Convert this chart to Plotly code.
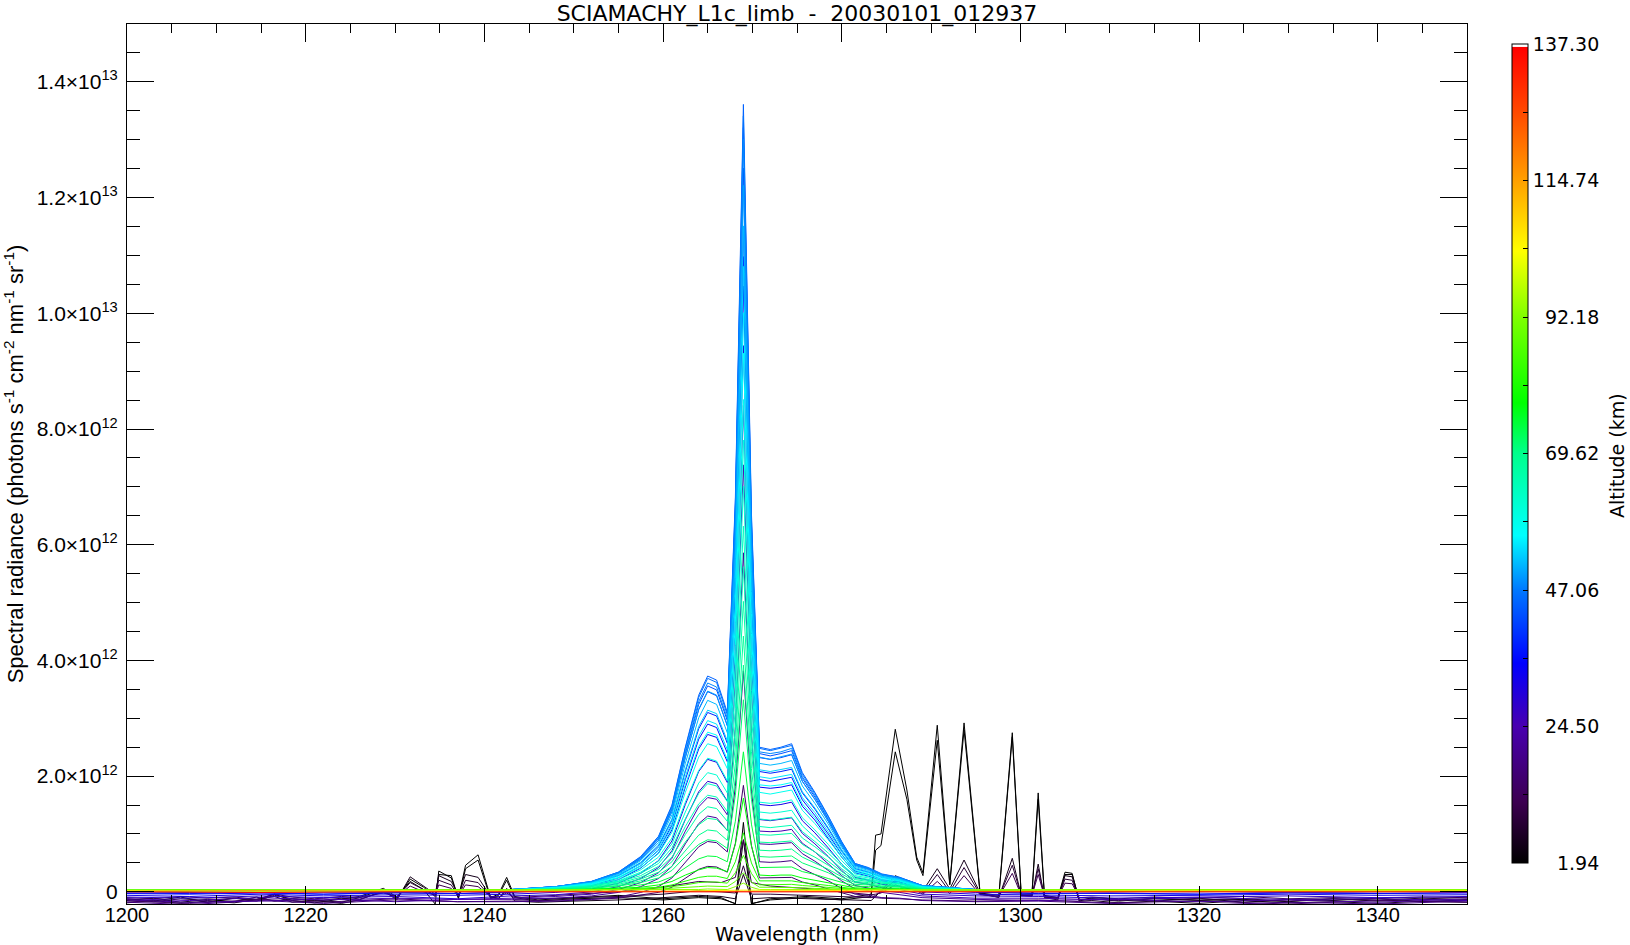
import numpy as np
import plotly.graph_objects as go
from plotly.colors import sample_colorscale

# ---------------- data (radiance in units of 1e10 photons s-1 cm-2 nm-1 sr-1) ----------------
wl_band = [1200, 1207, 1215, 1222, 1230, 1237, 1243, 1248, 1252, 1255, 1257.5, 1259.5, 1261, 1262.5,
           1264, 1265, 1266, 1267.2, 1268.1, 1269, 1269.9, 1270.8, 1272, 1273.2, 1274.4, 1275.6, 1277,
           1278.5, 1280, 1281.5, 1283, 1284.5, 1286.5, 1289, 1295, 1302, 1310, 1320, 1330, 1340, 1350]

wl_low = [1200, 1203, 1206, 1209, 1212, 1214.5, 1216.5, 1218.5, 1221, 1224, 1226, 1228.7, 1230.2,
          1231.7, 1233.2, 1234.5, 1234.9, 1236.3, 1237.1, 1237.9, 1239.3, 1240.7, 1241.6, 1242.5,
          1243.4, 1246, 1250, 1255, 1260, 1264, 1266.5, 1268.1, 1269, 1269.9, 1272, 1276, 1280,
          1283.3, 1283.8, 1284.4, 1286.0, 1287.3, 1288.4, 1289.1, 1290.7, 1292.1, 1293.7, 1295.5,
          1297.6, 1299.1, 1300.1, 1301.3, 1302.0, 1302.7, 1304.2, 1305.0, 1305.8, 1306.6, 1308,
          1311, 1315, 1320, 1325, 1330, 1335, 1340, 1345, 1350]

wl_flat = [1200, 1215, 1230, 1245, 1260, 1269, 1280, 1295, 1310, 1325, 1340, 1350]

# ---- lowest tangent heights ----
rad_alt01_94a = [-12, -16, -9, -18, -11, -14, -4, -15, -19, -12, -8, 6, -9, 18, 4, -21, 36, 24, -10, 46,
                 64, -10, -4, 25, -8, -14, -10, -6, -12, -8, -10, -21, 120, -21, -12, -8, -12, -4, 98,
                 100, 281, 176, 60, 33, 288, 14, 292, -2, -6, 275, -4, -3, 171, -6, -10, 34, 32, -16,
                 -10, -13, -16, -11, -18, -13, -15, -11, -17, -14]
rad_alt01_94b = [-15, -11, -18, -13, -17, -9, -16, -12, -14, -18, -10, 4, -12, 22, 8, -8, 30, 28, -12, 40,
                 55, -12, -6, 20, -10, -16, -12, -10, -14, -10, -12, -20, 90, -20, -14, -10, -14, -8, 72,
                 80, 242, 160, 55, 28, 262, 12, 280, -4, -8, 268, -6, -5, 160, -8, -12, 30, 30, -14,
                 -12, -16, -12, -15, -13, -17, -12, -16, -13, -15]
rad_alt05_2 = [-19, -15, -20, -16, -19, -13, -8, -18, -15, -20, -14, 2, -14, 26, 10, -4, 28, 18, -6, 30,
               25, -8, -12, 6, -16, -18, -16, -14, -10, -6, -8, -12, 30, -12, -10, -12, -14, -15, -8,
               2, 28, 18, 10, 2, 40, 5, 55, -2, -10, 58, -6, -8, 48, -10, -14, 28, 26, -16, -15, -19,
               -16, -20, -15, -19, -17, -20, -16, -18]
rad_alt08_5 = [-13, -17, -12, -15, -11, -16, -6, -12, -16, -11, -13, 0, -10, 16, 4, -6, 20, 12, -8, 20,
               16, -9, -11, 2, -13, -12, -10, -8, -4, 2, 0, -2, 45, -4, -4, -6, -9, -10, -6, 0, 20,
               12, 6, -2, 30, 0, 42, -4, -9, 46, -6, -7, 40, -9, -12, 22, 20, -13, -12, -15, -11,
               -14, -12, -16, -12, -14, -11, -13]
rad_alt11_8 = [-10, -12, -8, -11, -9, -13, -4, -9, -12, -8, -10, -2, -8, 10, 0, -6, 12, 6, -7, 12, 9,
               -8, -9, -2, -10, -8, -5, 0, 8, 18, 16, 25, 90, 16, 10, 6, 0, -5, -4, -2, 12, 6, 2, -4,
               18, -3, 28, -5, -8, 32, -6, -6, 30, -8, -10, 15, 14, -10, -9, -12, -9, -11, -8, -12,
               -10, -11, -9, -10]

# ---- airglow band spectra (on wl_band) ----
rad_alt15_1 = [-16, -20, -13, -18, -12, -17, -16, -15, -13, -11, -6, -1, 8, 24, 39, 44, 43, 34, 84, 184,
               80, 24, 24, 24, 25, 17, 12, 5, -2, -8, -9, -11, -12, -14, -16, -14, -19, -16, -21, -15, -18]
rad_alt18_4 = [-18, -22, -15, -20, -14, -17, -17, -16, -13, -9, -1, 9, 24, 52, 78, 87, 85, 69, 182,
               382, 174, 52, 51, 52, 54, 40, 30, 19, 6, -4, -6, -10, -11, -15, -17, -16, -20, -23, -18,
               -21, -16]
rad_alt21_7 = [-14, -18, -16, -12, -17, -13, -13, -11, -7, -1, 9, 23, 44, 83, 118, 131, 128, 106, 286,
               586, 274, 83, 82, 83, 85, 66, 53, 37, 19, 5, 2, -2, -5, -10, -13, -15, -13, -17, -14,
               -18, -12]
rad_alt25_0 = [-12, -15, -10, -14, -11, -13, -11, -8, -4, 4, 16, 33, 58, 105, 147, 163, 160, 133, 363,
               738, 348, 105, 104, 105, 108, 84, 69, 49, 28, 11, 7, 2, -1, -7, -11, -11, -14, -10,
               -13, -12, -15]
rad_alt28_3 = [-9, -11, -7, -10, -8, -12, -7, -5, 0, 9, 23, 42, 71, 125, 173, 191, 187, 157, 416, 841,
               399, 125, 123, 125, 128, 101, 83, 61, 37, 17, 13, 7, 4, -4, -7, -8, -11, -9, -7, -10,
               -8]
rad_alt31_6 = [-6, -8, -4, -7, -5, -6, -4, -1, 5, 15, 32, 54, 88, 151, 208, 229, 224, 189, 469, 944,
               450, 151, 149, 151, 155, 123, 102, 76, 48, 25, 20, 13, 9, 0, -4, -5, -7, -6, -4, -6,
               -5]
rad_alt34_9 = [-3, -4, -2, -4, -1, -3, -1, 3, 10, 21, 41, 67, 107, 181, 247, 272, 267, 225, 522, 1047,
               501, 181, 179, 181, 185, 148, 124, 93, 60, 33, 27, 19, 15, 4, -1, -2, -3, -4, -2, -3,
               -1]
rad_alt36_5 = [-2, -3, -1, -4, -2, -3, 0, 4, 11, 24, 45, 72, 115, 194, 264, 290, 284, 240, 548, 1098,
               526, 194, 191, 194, 198, 159, 132, 100, 65, 36, 30, 21, 17, 6, 0, -3, -2, -4, -1, -3,
               -2]
rad_alt38_2 = [0, -1, 1, 0, -1, 1, 2, 7, 14, 28, 50, 79, 124, 208, 282, 310, 304, 257, 575, 1150, 552,
               208, 205, 208, 212, 171, 143, 109, 71, 40, 34, 25, 20, 8, 2, 1, 0, 1, -1, 0, 1]
rad_alt41_5 = [1, 0, 2, 1, 0, 1, 4, 9, 17, 32, 56, 89, 139, 232, 315, 346, 339, 287, 626, 1251, 601,
               232, 229, 232, 237, 191, 160, 122, 80, 46, 39, 29, 23, 10, 4, 2, 1, 0, 2, 1, 1]
rad_alt43_1 = [1, 2, 1, 0, 1, 2, 4, 9, 17, 33, 58, 92, 143, 239, 324, 356, 349, 296, 661, 1321, 635,
               239, 235, 239, 244, 196, 164, 125, 83, 47, 40, 29, 24, 11, 4, 1, 2, 1, 1, 2, 1]
rad_alt44_8 = [2, 1, 2, 0, 1, 2, 4, 9, 18, 34, 61, 96, 150, 250, 340, 373, 366, 310, 681, 1361, 654,
               250, 246, 250, 256, 206, 172, 131, 87, 49, 42, 31, 25, 11, 4, 2, 1, 2, 1, 2, 1]
rad_alt46_4 = [2, 1, 1, 2, 2, 1, 4, 9, 18, 34, 60, 95, 148, 248, 336, 369, 362, 306, 671, 1341, 644,
               248, 244, 248, 253, 203, 170, 130, 86, 49, 41, 30, 25, 11, 4, 2, 1, 2, 2, 1, 1]
rad_alt48_1 = [1, 2, 1, 1, 2, 0, 4, 9, 18, 33, 59, 93, 145, 242, 329, 361, 354, 300, 651, 1301, 625,
               242, 239, 242, 248, 199, 167, 127, 84, 48, 41, 30, 24, 11, 4, 1, 2, 1, 2, 1, 2]
rad_alt49_7 = [1, 1, 2, 1, 2, 1, 4, 9, 17, 32, 56, 89, 139, 233, 316, 347, 340, 288, 611, 1221, 587,
               233, 229, 233, 238, 191, 160, 122, 81, 46, 39, 29, 23, 10, 4, 1, 2, 1, 2, 1, 1]
rad_alt51_4 = [2, 1, 1, 2, 1, 2, 4, 8, 16, 30, 54, 85, 133, 222, 301, 331, 324, 275, 576, 1151, 553,
               222, 219, 222, 227, 183, 153, 117, 77, 44, 37, 27, 22, 10, 4, 1, 1, 2, 1, 2, 1]
rad_alt53_0 = [1, 2, 1, 1, 1, 2, 4, 8, 15, 29, 51, 81, 126, 211, 286, 314, 308, 261, 541, 1081, 519,
               211, 208, 211, 215, 173, 145, 111, 73, 42, 35, 26, 21, 9, 3, 2, 1, 1, 2, 1, 1]
rad_alt54_7 = [1, 1, 2, 1, 1, 1, 3, 7, 15, 27, 48, 76, 119, 199, 269, 296, 290, 246, 501, 1001, 481,
               199, 196, 199, 203, 163, 137, 104, 69, 39, 33, 25, 20, 9, 3, 2, 1, 1, 1, 1, 2]
rad_alt56_3 = [1, 1, 2, 1, 2, 1, 3, 7, 14, 25, 45, 71, 111, 185, 251, 276, 271, 229, 466, 931, 447,
               185, 183, 185, 189, 152, 128, 97, 64, 37, 31, 23, 19, 8, 3, 1, 1, 2, 1, 1, 2]
rad_alt58_0 = [1, 2, 1, 1, 2, 1, 3, 7, 13, 24, 42, 66, 103, 172, 233, 256, 251, 213, 426, 851, 409,
               172, 169, 172, 176, 141, 118, 90, 60, 34, 29, 21, 18, 8, 3, 1, 2, 1, 1, 2, 1]
rad_alt59_6 = [2, 1, 1, 2, 1, 1, 3, 6, 12, 21, 38, 60, 93, 155, 210, 231, 226, 192, 391, 781, 375,
               155, 153, 155, 159, 128, 107, 82, 54, 31, 26, 19, 16, 7, 3, 1, 2, 1, 1, 2, 1]
rad_alt61_3 = [2, 1, 1, 2, 1, 2, 3, 6, 10, 19, 34, 53, 83, 138, 188, 206, 202, 171, 351, 701, 337,
               138, 136, 138, 141, 114, 95, 73, 48, 28, 24, 17, 14, 7, 3, 2, 1, 2, 2, 1, 2]
rad_alt62_9 = [2, 2, 1, 2, 1, 2, 3, 6, 11, 18, 32, 49, 76, 126, 170, 187, 183, 156, 317, 632, 304,
               126, 124, 126, 129, 104, 87, 67, 45, 26, 22, 17, 14, 7, 3, 2, 1, 2, 2, 2, 1]
rad_alt64_6 = [2, 2, 1, 2, 2, 1, 3, 6, 10, 17, 28, 44, 68, 113, 152, 167, 164, 139, 282, 562, 271,
               113, 111, 113, 115, 93, 78, 60, 40, 23, 20, 15, 13, 6, 3, 2, 2, 1, 2, 2, 2]
rad_alt66_2 = [2, 2, 2, 1, 2, 2, 3, 5, 9, 15, 25, 39, 60, 99, 134, 147, 144, 122, 252, 502, 242, 99,
               98, 99, 101, 82, 69, 53, 35, 21, 18, 14, 11, 6, 3, 2, 2, 1, 2, 2, 2]
rad_alt67_9 = [2, 1, 2, 2, 1, 2, 3, 5, 8, 13, 22, 34, 52, 86, 116, 127, 125, 106, 222, 442, 213, 86,
               85, 86, 88, 71, 60, 46, 31, 18, 16, 12, 10, 5, 3, 2, 2, 2, 1, 2, 2]
rad_alt69_5 = [2, 2, 1, 2, 2, 2, 3, 4, 7, 11, 19, 29, 44, 72, 98, 107, 105, 89, 197, 392, 189, 72,
               71, 72, 74, 60, 50, 39, 26, 16, 14, 10, 9, 5, 3, 2, 2, 2, 1, 2, 2]
rad_alt71_2 = [2, 3, 2, 2, 3, 2, 3, 4, 6, 10, 16, 24, 37, 61, 82, 90, 88, 75, 167, 332, 160, 61, 60,
               61, 62, 50, 42, 33, 22, 13, 12, 9, 8, 4, 3, 2, 3, 2, 2, 3, 2]
rad_alt74_5 = [2, 3, 2, 2, 3, 2, 2, 3, 5, 7, 12, 17, 26, 42, 57, 62, 61, 52, 122, 242, 117, 42, 42,
               42, 43, 35, 30, 23, 16, 10, 9, 7, 6, 4, 2, 3, 2, 2, 3, 2, 3]
rad_alt77_8 = [3, 2, 3, 2, 3, 3, 2, 3, 4, 6, 8, 12, 18, 29, 38, 42, 41, 35, 82, 162, 79, 29, 28, 29,
               29, 24, 20, 16, 11, 7, 6, 5, 5, 3, 2, 2, 3, 3, 2, 3, 2]
rad_alt81_1 = [3, 3, 2, 3, 3, 3, 2, 3, 3, 4, 6, 8, 12, 19, 25, 27, 27, 23, 52, 102, 50, 19, 19, 19,
               19, 16, 14, 11, 8, 5, 5, 4, 4, 3, 2, 3, 3, 2, 3, 3, 3]
rad_alt84_4 = [3, 3, 3, 4, 3, 3, 3, 3, 4, 4, 5, 7, 9, 12, 16, 17, 17, 15, 33, 63, 32, 12, 12, 12, 13,
               11, 9, 8, 6, 5, 5, 4, 4, 3, 3, 3, 4, 3, 3, 4, 3]
rad_alt88_0 = [3, 4, 3, 3, 4, 3, 3, 3, 3, 4, 4, 5, 6, 8, 9, 10, 10, 9, 18, 33, 17, 8, 8, 8, 8, 7, 6,
               5, 5, 4, 4, 4, 3, 3, 3, 4, 3, 3, 4, 3, 4]
rad_alt93_0 = [3, 3, 4, 3, 3, 4, 3, 3, 3, 3, 3, 3, 4, 4, 4, 5, 5, 4, 9, 15, 8, 4, 4, 4, 4, 4, 4, 3, 3,
               3, 3, 3, 3, 3, 3, 3, 4, 3, 3, 3, 4]

# ---- high tangent heights (nearly flat) ----
rad_alt103_0 = [2, 1, 2, 2, 1, 3, 2, 1, 2, 2, 1, 2]
rad_alt115_0 = [1, 2, 1, 1, 2, 2, 1, 2, 1, 1, 2, 1]
rad_alt137_3 = [0, -1, 0, 0, -1, 0, 0, -1, 0, 0, -1, 0]

spectra = [
    (1.94, wl_low, rad_alt01_94a), (1.94, wl_low, rad_alt01_94b), (5.2, wl_low, rad_alt05_2),
    (8.5, wl_low, rad_alt08_5), (11.8, wl_low, rad_alt11_8),
    (15.1, wl_band, rad_alt15_1), (18.4, wl_band, rad_alt18_4), (21.7, wl_band, rad_alt21_7),
    (25.0, wl_band, rad_alt25_0), (28.3, wl_band, rad_alt28_3), (31.6, wl_band, rad_alt31_6),
    (34.9, wl_band, rad_alt34_9), (36.5, wl_band, rad_alt36_5), (38.2, wl_band, rad_alt38_2),
    (41.5, wl_band, rad_alt41_5), (43.1, wl_band, rad_alt43_1), (44.8, wl_band, rad_alt44_8),
    (46.4, wl_band, rad_alt46_4), (48.1, wl_band, rad_alt48_1), (49.7, wl_band, rad_alt49_7),
    (51.4, wl_band, rad_alt51_4), (53.0, wl_band, rad_alt53_0), (54.7, wl_band, rad_alt54_7),
    (56.3, wl_band, rad_alt56_3), (58.0, wl_band, rad_alt58_0), (59.6, wl_band, rad_alt59_6),
    (61.3, wl_band, rad_alt61_3), (62.9, wl_band, rad_alt62_9), (64.6, wl_band, rad_alt64_6),
    (66.2, wl_band, rad_alt66_2), (67.9, wl_band, rad_alt67_9), (69.5, wl_band, rad_alt69_5),
    (71.2, wl_band, rad_alt71_2), (74.5, wl_band, rad_alt74_5), (77.8, wl_band, rad_alt77_8),
    (81.1, wl_band, rad_alt81_1), (84.4, wl_band, rad_alt84_4), (88.0, wl_band, rad_alt88_0),
    (93.0, wl_band, rad_alt93_0),
    (103.0, wl_flat, rad_alt103_0), (115.0, wl_flat, rad_alt115_0), (137.3, wl_flat, rad_alt137_3),
]

alt_min, alt_max = 1.94, 137.30
cbar_ticks = [1.94, 24.50, 47.06, 69.62, 92.18, 114.74, 137.30]
y_ticks = [0, 2e12, 4e12, 6e12, 8e12, 1e13, 1.2e13, 1.4e13]
y_ticktext = ["0", "2.0×10<sup>12</sup>", "4.0×10<sup>12</sup>", "6.0×10<sup>12</sup>",
              "8.0×10<sup>12</sup>", "1.0×10<sup>13</sup>", "1.2×10<sup>13</sup>", "1.4×10<sup>13</sup>"]
unit = 1e10

# ---------------- style ----------------
rainbow = [
    [0.0, "rgb(0,0,0)"], [0.074, "rgb(60,0,80)"], [0.167, "rgb(72,0,176)"],
    [0.244, "rgb(0,0,255)"], [0.333, "rgb(0,120,255)"], [0.40, "rgb(0,255,255)"],
    [0.50, "rgb(0,255,140)"], [0.562, "rgb(0,255,0)"], [0.667, "rgb(128,255,0)"],
    [0.747, "rgb(255,255,0)"], [0.833, "rgb(255,160,0)"], [0.92, "rgb(255,70,0)"],
    [0.996, "rgb(255,0,0)"], [0.997, "rgb(255,255,255)"], [1.0, "rgb(255,255,255)"],
]

# plot area in page pixels
L, R, T, B = 127, 1467, 24, 904
W, H = 1630, 945
pw, ph = R - L, B - T

fig = go.Figure()
for alt, wl, rad in spectra:
    f = (alt - alt_min) / (alt_max - alt_min)
    f = min(max(f, 0.0), 0.99)
    col = sample_colorscale(rainbow, [f])[0]
    fig.add_trace(go.Scatter(x=wl, y=np.array(rad, dtype=float) * unit, mode="lines",
                             line=dict(color=col, width=1), showlegend=False, hoverinfo="skip"))

# colour bar (dummy trace)
cb_vals, cb_text = [], []
for i, v in enumerate(cbar_ticks):
    s = f"{v:.2f}"
    pad = "\u00a0" * (2 * (6 - len(s)))
    cb_vals.append(v)
    cb_text.append(pad + s)
    if i < len(cbar_ticks) - 1:
        cb_vals.append((v + cbar_ticks[i + 1]) / 2)
        cb_text.append("")

fig.add_trace(go.Scatter(
    x=[None], y=[None], mode="markers", showlegend=False, hoverinfo="skip",
    marker=dict(color=[alt_min], colorscale=rainbow, cmin=alt_min, cmax=alt_max, showscale=True,
                colorbar=dict(
                    x=(1512 - L) / pw, xanchor="left",
                    y=(B - 863) / ph, yanchor="bottom",
                    lenmode="fraction", len=819 / ph, thicknessmode="pixels", thickness=16,
                    outlinecolor="black", outlinewidth=1, xpad=0, ypad=0,
                    tickmode="array", tickvals=cb_vals, ticktext=cb_text,
                    ticks="inside", ticklen=5, tickcolor="black", tickwidth=1,
                    tickfont=dict(family="DejaVu Sans", size=19, color="black"),
                ))))

minor_y = list(np.arange(0, 1.5e13 + 1, 5e11))

fig.add_annotation(text="Altitude (km)", textangle=-90, showarrow=False,
                   xref="paper", yref="paper", x=(1617 - L) / pw, y=(B - 456) / ph,
                   xanchor="center", yanchor="middle",
                   font=dict(family="DejaVu Sans", size=19, color="black"))

fig.update_layout(
    width=W, height=H,
    margin=dict(l=L, r=W - R, t=T, b=H - B, autoexpand=False),
    paper_bgcolor="white", plot_bgcolor="white",
    title=dict(text="SCIAMACHY_L1c_limb\u00a0\u00a0-\u00a0\u00a020030101_012937",
               x=(L + R) / 2 / W, xanchor="center", xref="container",
               y=1 - 6 / H, yanchor="top", yref="container",
               font=dict(family="DejaVu Sans", size=22, color="black")),
    xaxis=dict(range=[1200, 1350], tickmode="linear", tick0=1200, dtick=20,
               ticks="inside", ticklen=18, tickwidth=1, tickcolor="black",
               showline=True, linecolor="black", linewidth=1, mirror="ticks",
               showgrid=False, zeroline=False,
               minor=dict(tickmode="linear", tick0=1200, dtick=5, ticks="inside", ticklen=9,
                          tickcolor="black", tickwidth=1, showgrid=False),
               tickfont=dict(family="Liberation Sans", size=20, color="black"),
               ticklabelstandoff=-7,
               title=dict(text="Wavelength (nm)", standoff=0,
                          font=dict(family="DejaVu Sans", size=19, color="black"))),
    yaxis=dict(range=[-2.1e11, 1.5e13], tickmode="array", tickvals=y_ticks, ticktext=y_ticktext,
               ticks="inside", ticklen=27, tickwidth=1, tickcolor="black",
               showline=True, linecolor="black", linewidth=1, mirror="ticks",
               showgrid=False, zeroline=False,
               minor=dict(tickmode="array", tickvals=minor_y, ticks="inside", ticklen=13,
                          tickcolor="black", tickwidth=1, showgrid=False),
               tickfont=dict(family="Liberation Sans", size=21, color="black"),
               ticklabelstandoff=4,
               title=dict(text="Spectral radiance (photons s<sup>-1</sup> cm<sup>-2</sup> nm<sup>-1</sup> sr<sup>-1</sup>)",
                          standoff=12,
                          font=dict(family="Liberation Sans", size=22, color="black"))),
)

# the page is photographed from its top-left corner: drop the default body margin
fig.write_html("out.html", config={"displayModeBar": False},
               post_script="document.body.style.margin='0px';")
